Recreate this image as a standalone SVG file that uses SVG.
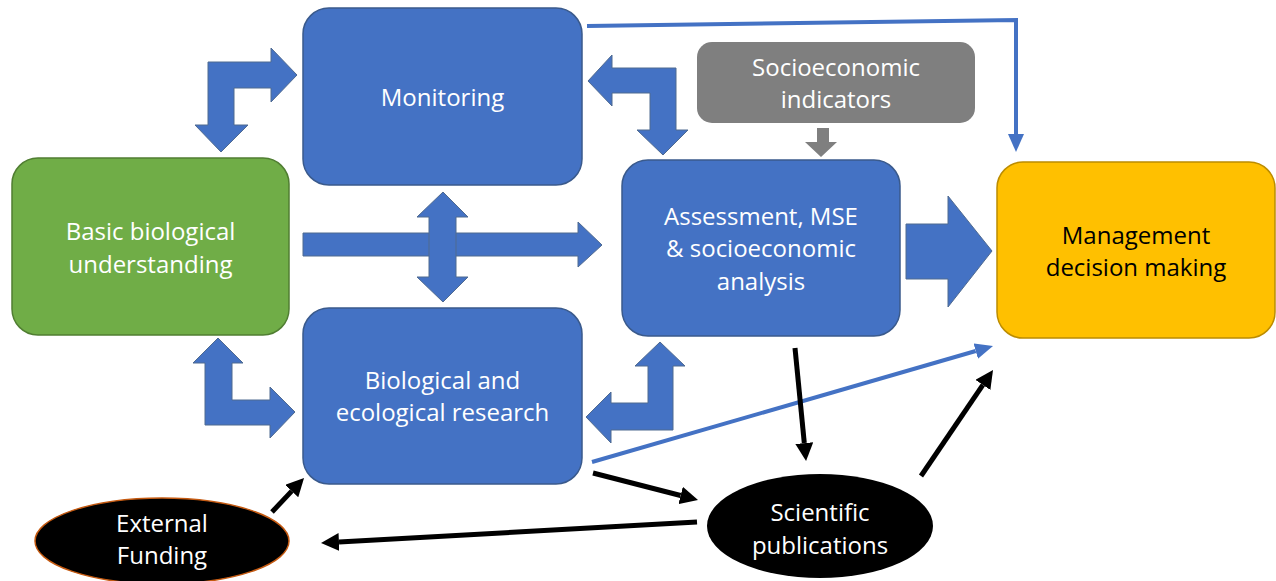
<svg xmlns="http://www.w3.org/2000/svg" width="1276" height="581" viewBox="0 0 1276 581">
  <style>
    .lbl { font-family: "Open Sans", "Liberation Sans", sans-serif; font-size: 24px; text-anchor: middle; fill: #FFFFFF; }
    .dark { fill: #000000; }
    .blueBox { fill: #4472C4; stroke: #3A5A8C; stroke-width: 1.5; }
    .block { fill: #4472C4; stroke: #4F6A90; stroke-width: 1; }
    .thinBlue { fill: none; stroke: #4472C4; stroke-width: 4; }
    .thinBlack { fill: none; stroke: #000000; stroke-width: 5; }
  </style>
  <defs>
    <marker id="headBlack" viewBox="0 0 18 18" refX="0" refY="9" markerWidth="18" markerHeight="18" markerUnits="userSpaceOnUse" orient="auto">
      <path d="M0,0 L18,9 L0,18 z" fill="#000000"/>
    </marker>
    <marker id="headBlue" viewBox="0 0 18 16" refX="0" refY="8" markerWidth="18" markerHeight="16" markerUnits="userSpaceOnUse" orient="auto">
      <path d="M0,0 L18,8 L0,16 z" fill="#4472C4"/>
    </marker>
  </defs>

  <rect width="1276" height="581" fill="#FFFFFF"/>

  <!-- nodes -->
  <g id="basic">
    <rect x="12" y="158" width="277" height="177" rx="26" fill="#70AD47" stroke="#507E32" stroke-width="1.5"/>
    <text class="lbl" x="150.5" y="240">Basic biological</text>
    <text class="lbl" x="150.5" y="273">understanding</text>
  </g>
  <g id="monitoring">
    <rect class="blueBox" x="303" y="8" width="279" height="177" rx="26"/>
    <text class="lbl" x="442.5" y="106">Monitoring</text>
  </g>
  <g id="research">
    <rect class="blueBox" x="303" y="308" width="279" height="176" rx="26"/>
    <text class="lbl" x="442.5" y="389">Biological and</text>
    <text class="lbl" x="442.5" y="421">ecological research</text>
  </g>
  <g id="assessment">
    <rect class="blueBox" x="622" y="160" width="278" height="176" rx="26"/>
    <text class="lbl" x="761" y="225">Assessment, MSE</text>
    <text class="lbl" x="761" y="257">&amp; socioeconomic</text>
    <text class="lbl" x="761" y="290">analysis</text>
  </g>
  <g id="management">
    <rect x="997" y="162" width="278" height="176" rx="26" fill="#FFC000" stroke="#BC8C00" stroke-width="1.5"/>
    <text class="lbl dark" x="1136" y="244">Management</text>
    <text class="lbl dark" x="1136" y="276">decision making</text>
  </g>
  <g id="socioeconomic">
    <rect x="697" y="42" width="278" height="81" rx="15" fill="#7F7F7F"/>
    <text class="lbl" x="836" y="76">Socioeconomic</text>
    <text class="lbl" x="836" y="108">indicators</text>
  </g>
  <g id="funding">
    <ellipse cx="162" cy="541" rx="127" ry="43" fill="#000000" stroke="#C55A11" stroke-width="1.5"/>
    <text class="lbl" x="162" y="532">External</text>
    <text class="lbl" x="162" y="564">Funding</text>
  </g>
  <g id="publications">
    <ellipse cx="820" cy="526" rx="113" ry="52" fill="#000000"/>
    <text class="lbl" x="820" y="521">Scientific</text>
    <text class="lbl" x="820" y="554">publications</text>
  </g>

  <!-- connectors -->
  <g id="connectors">
    <!-- block arrows -->
    <polygon class="block" points="208,62 271,62 271,48 297,75 271,102 271,88 234,88 234,125 248,125 221,152 195,125 208,125"/>
    <polygon class="block" points="218,338 243,363 232,363 232,400 270,400 270,387 295,412 270,438 270,425 205,425 205,363 193,363"/>
    <polygon class="block" points="660,342 685,366 673,366 673,430 611,430 611,443 586,417 611,392 611,403 648,403 648,366 635,366"/>
    <polygon class="block" points="588,81 612,55 612,68 676,68 676,130 688,130 663,155 637,130 650,130 650,93 612,93 612,106"/>
    <polygon class="block" points="303,233 578,233 578,222 602,245 578,267 578,256 303,256"/>
    <polygon class="block" points="443,192 468,217 456,217 456,277 468,277 443,302 417,277 429,277 429,217 417,217"/>
    <polygon class="block" points="906,224 948,224 948,196 992,251 948,307 948,279 906,279"/>
    <polygon points="817,128 829,128 829,142 837,142 821,157 805,142 817,142" fill="#7F7F7F"/>

    <!-- thin blue arrows -->
    <polyline class="thinBlue" points="587,26 1016,20 1016,134" marker-end="url(#headBlue)"/>
    <line class="thinBlue" x1="592" y1="462" x2="975.7" y2="351" marker-end="url(#headBlue)"/>

    <!-- thin black arrows -->
    <line class="thinBlack" x1="795" y1="348" x2="804.3" y2="443.1" marker-end="url(#headBlack)"/>
    <line class="thinBlack" x1="921" y1="476" x2="982.9" y2="384.9" marker-end="url(#headBlack)"/>
    <line class="thinBlack" x1="593" y1="473" x2="680.6" y2="495.5" marker-end="url(#headBlack)"/>
    <line class="thinBlack" x1="697" y1="522" x2="339" y2="542" marker-end="url(#headBlack)"/>
    <line class="thinBlack" x1="272" y1="512" x2="291.7" y2="491.1" marker-end="url(#headBlack)"/>
  </g>
</svg>
